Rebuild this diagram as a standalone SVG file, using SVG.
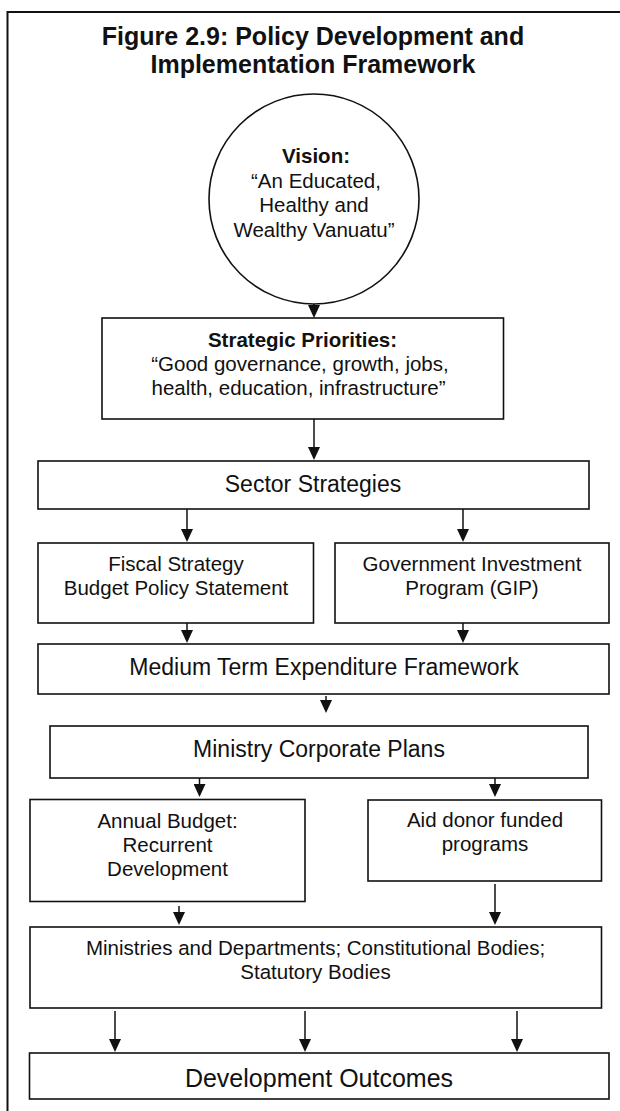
<svg xmlns="http://www.w3.org/2000/svg" width="620" height="1111" viewBox="0 0 620 1111">
<style>
  .frame { fill: none; stroke: #111; stroke-width: 2; }
  .box { fill: #fff; stroke: #111; stroke-width: 1.6; }
  .t { font-family: "Liberation Sans", Arial, Helvetica, sans-serif; fill: #111; text-anchor: middle; }
  .title { font-size: 25px; font-weight: bold; }
  .s20 { font-size: 20.5px; }
  .s23 { font-size: 23px; }
  .s25 { font-size: 25px; }
  .b { font-weight: bold; }
  .conn line { stroke: #111; stroke-width: 1.5; marker-end: url(#arr); }
</style>
<defs>
  <marker id="arr" viewBox="0 0 13 12" refX="9" refY="6" markerWidth="13" markerHeight="12" markerUnits="userSpaceOnUse" orient="auto">
    <path d="M0,0 L13,6 L0,12 z" fill="#111"/>
  </marker>
</defs>
<rect width="620" height="1111" fill="#fff"/>
<path class="frame" d="M7.5,1111 V12 H620"/>
<g id="title">
  <text class="t title" x="313" y="45">Figure 2.9: Policy Development and</text>
  <text class="t title" x="313" y="73">Implementation Framework</text>
</g>
<g class="conn" id="connectors">
  <line x1="314" y1="303" x2="314" y2="314"/>
  <line x1="314" y1="419" x2="314" y2="456"/>
  <line x1="187" y1="509" x2="187" y2="538"/>
  <line x1="463" y1="509" x2="463" y2="538"/>
  <line x1="187" y1="623" x2="187" y2="639"/>
  <line x1="463" y1="623" x2="463" y2="639"/>
  <line x1="326" y1="696" x2="326" y2="709"/>
  <line x1="199.5" y1="778" x2="199.5" y2="793"/>
  <line x1="495" y1="778" x2="495" y2="793"/>
  <line x1="179" y1="906" x2="179" y2="921"/>
  <line x1="495" y1="884" x2="495" y2="921"/>
  <line x1="115" y1="1011" x2="115" y2="1048"/>
  <line x1="305" y1="1011" x2="305" y2="1048"/>
  <line x1="517" y1="1011" x2="517" y2="1048"/>
</g>
<g id="vision">
  <circle class="box" cx="314" cy="199" r="105"/>
  <text class="t s20 b" x="316" y="163">Vision:</text>
  <text class="t s20" x="316" y="187.5">“An Educated,</text>
  <text class="t s20" x="314" y="212">Healthy and</text>
  <text class="t s20" x="314" y="236.5">Wealthy Vanuatu”</text>
</g>
<g id="strategic">
  <rect class="box" x="102" y="318" width="401.5" height="101"/>
  <text class="t s20 b" x="302.5" y="347">Strategic Priorities:</text>
  <text class="t s20" x="300" y="371">“Good governance, growth, jobs,</text>
  <text class="t s20" x="298.5" y="394.5">health, education, infrastructure”</text>
</g>
<g id="sector">
  <rect class="box" x="38" y="461" width="551" height="48"/>
  <text class="t s23" x="313" y="492">Sector Strategies</text>
</g>
<g id="fiscal">
  <rect class="box" x="38" y="543" width="275.5" height="80"/>
  <text class="t s20" x="176" y="570.5">Fiscal Strategy</text>
  <text class="t s20" x="176" y="595">Budget Policy Statement</text>
</g>
<g id="gip">
  <rect class="box" x="335" y="543" width="274" height="80"/>
  <text class="t s20" x="472" y="570.5">Government Investment</text>
  <text class="t s20" x="472" y="594.5">Program (GIP)</text>
</g>
<g id="mtef">
  <rect class="box" x="38" y="644" width="571" height="50"/>
  <text class="t s23" x="324" y="675">Medium Term Expenditure Framework</text>
</g>
<g id="corporate">
  <rect class="box" x="50" y="726" width="538" height="52"/>
  <text class="t s23" x="319" y="757">Ministry Corporate Plans</text>
</g>
<g id="annual">
  <rect class="box" x="30" y="799.5" width="275" height="102"/>
  <text class="t s20" x="167.5" y="827.5">Annual Budget:</text>
  <text class="t s20" x="167.5" y="851.5">Recurrent</text>
  <text class="t s20" x="167.5" y="875.5">Development</text>
</g>
<g id="aid">
  <rect class="box" x="368" y="800" width="233.5" height="81"/>
  <text class="t s20" x="485" y="827">Aid donor funded</text>
  <text class="t s20" x="485" y="850.5">programs</text>
</g>
<g id="ministries">
  <rect class="box" x="30" y="927" width="571.5" height="81"/>
  <text class="t s20" x="315.5" y="955">Ministries and Departments; Constitutional Bodies;</text>
  <text class="t s20" x="315.5" y="978.5">Statutory Bodies</text>
</g>
<g id="outcomes">
  <rect class="box" x="29.5" y="1053" width="579.5" height="46"/>
  <text class="t s25" x="319" y="1086.5">Development Outcomes</text>
</g>
</svg>
